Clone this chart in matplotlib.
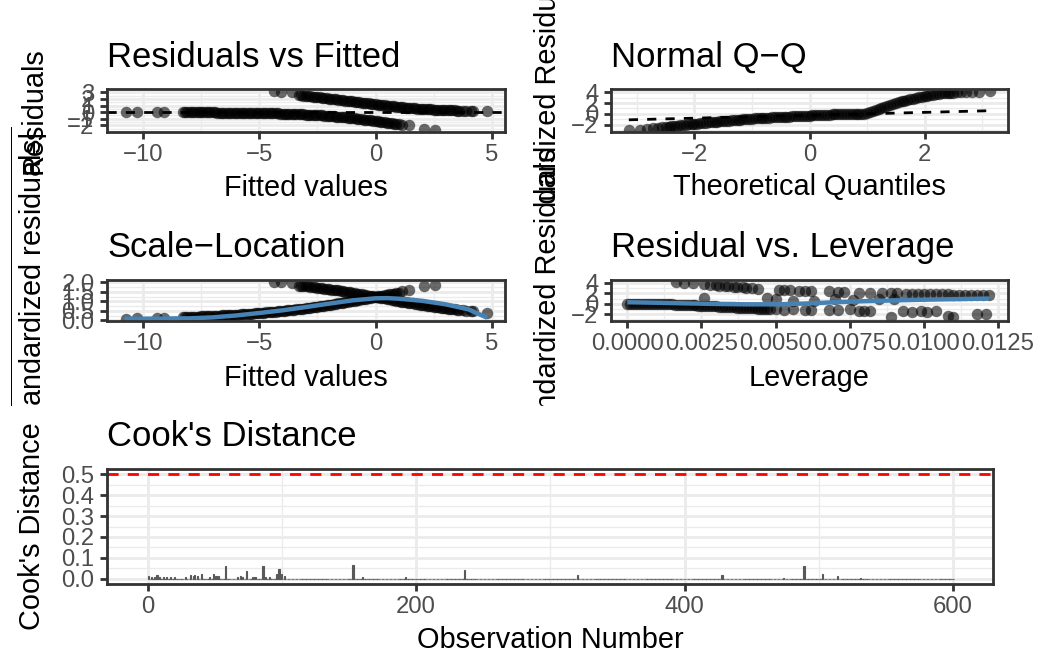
import numpy as np
import matplotlib
matplotlib.use("Agg")
import matplotlib.pyplot as plt
from matplotlib.transforms import Bbox

# ---------------- data ----------------
# Residuals vs Fitted / Scale-Location : observations with y = 1 (upper band)
fit_hi = [-4.35, -4.05, -3.6, -3.3, -3.2, -3.1, -3.0, -2.9, -2.8, -2.7, -2.6, -2.5, -2.4, -2.3, -2.2,
          -2.1, -2.0, -1.9, -1.8, -1.7, -1.6, -1.5, -1.4, -1.3, -1.2, -1.1, -1.0, -0.9, -0.8, -0.7,
          -0.6, -0.5, -0.4, -0.3, -0.2, -0.1, 0.0, 0.1, 0.2, 0.3, 0.4, 0.5, 0.6, 0.7, 0.8, 0.9, 1.0,
          1.1, 1.2, 1.3, 1.4, 1.5, 1.6, 1.7, 1.8, 1.9, 2.0, 2.1, 2.2, 2.3, 2.4, 2.5, 2.6, 2.7, 2.8,
          2.9, 3.0, 3.1, 3.2, 3.3, 3.4, 3.5, 3.6, 3.75, 3.9, 4.1, 4.2, 4.8]
res_hi = [3.15, 3.1, 3.05, 2.58, 2.55, 2.51, 2.47, 2.43, 2.39, 2.35, 2.31, 2.27, 2.23, 2.19, 2.15,
          2.11, 2.06, 2.02, 1.98, 1.93, 1.89, 1.85, 1.80, 1.76, 1.71, 1.67, 1.62, 1.58, 1.53, 1.49,
          1.44, 1.40, 1.35, 1.31, 1.26, 1.22, 1.18, 1.14, 1.09, 1.05, 1.01, 0.97, 0.94, 0.90, 0.86,
          0.83, 0.79, 0.76, 0.73, 0.69, 0.66, 0.64, 0.61, 0.58, 0.55, 0.53, 0.50, 0.48, 0.46, 0.44,
          0.42, 0.40, 0.38, 0.36, 0.34, 0.33, 0.31, 0.30, 0.28, 0.27, 0.26, 0.24, 0.23, 0.22, 0.20,
          0.18, 0.17, 0.13]
sl_hi = [2.02, 2.0, 1.98, 1.83, 1.82, 1.81, 1.79, 1.78, 1.76, 1.75, 1.73, 1.72, 1.70, 1.69, 1.67,
         1.65, 1.64, 1.62, 1.60, 1.59, 1.57, 1.55, 1.53, 1.51, 1.49, 1.47, 1.45, 1.43, 1.41, 1.39,
         1.37, 1.35, 1.33, 1.30, 1.28, 1.26, 1.24, 1.22, 1.19, 1.17, 1.15, 1.13, 1.10, 1.08, 1.06,
         1.04, 1.02, 0.99, 0.97, 0.95, 0.93, 0.91, 0.89, 0.87, 0.85, 0.83, 0.81, 0.79, 0.77, 0.75,
         0.74, 0.72, 0.70, 0.69, 0.67, 0.65, 0.64, 0.62, 0.61, 0.59, 0.58, 0.56, 0.55, 0.53, 0.51,
         0.49, 0.47, 0.41]

# observations with y = 0 (lower band)
fit_lo = [-10.75, -10.25, -9.4, -9.1,
          -8.3, -8.2, -8.1, -8.0, -7.9, -7.8, -7.7, -7.6, -7.5, -7.4, -7.3, -7.2, -7.1, -7.0, -6.9,
          -6.8, -6.7, -6.6, -6.5, -6.4, -6.3, -6.2, -6.1, -6.0, -5.9, -5.8, -5.7, -5.6, -5.5, -5.4,
          -5.3, -5.2, -5.1, -5.0, -4.9, -4.8, -4.7, -4.6, -4.5, -4.4, -4.3, -4.2, -4.1, -4.0, -3.9,
          -3.8, -3.7, -3.6, -3.5, -3.4, -3.3, -3.2, -3.1, -3.0, -2.9, -2.8, -2.7, -2.6, -2.5, -2.4,
          -2.3, -2.2, -2.1, -2.0, -1.9, -1.8, -1.7, -1.6, -1.5, -1.4, -1.3, -1.2, -1.1, -1.0, -0.9,
          -0.8, -0.7, -0.6, -0.5, -0.4, -0.3, -0.2, -0.1, 0.0, 0.1, 0.2, 0.3, 0.4, 0.5, 0.6, 0.7,
          0.8, 0.9, 1.0, 1.15, 1.45, 2.1, 2.55]
res_lo = [-0.01, -0.01, -0.02, -0.02,
          -0.026, -0.027, -0.028, -0.030, -0.031, -0.033, -0.035, -0.036, -0.038, -0.040, -0.042,
          -0.044, -0.047, -0.049, -0.052, -0.054, -0.057, -0.060, -0.063, -0.066, -0.070, -0.073,
          -0.077, -0.081, -0.085, -0.089, -0.094, -0.099, -0.104, -0.109, -0.115, -0.121, -0.127,
          -0.133, -0.140, -0.147, -0.155, -0.163, -0.171, -0.180, -0.189, -0.198, -0.209, -0.219,
          -0.230, -0.242, -0.254, -0.267, -0.281, -0.295, -0.309, -0.325, -0.341, -0.358, -0.376,
          -0.395, -0.415, -0.435, -0.457, -0.479, -0.503, -0.527, -0.553, -0.579, -0.607, -0.636,
          -0.666, -0.697, -0.730, -0.763, -0.798, -0.835, -0.872, -0.910, -0.950, -0.991, -1.033,
          -1.076, -1.120, -1.165, -1.211, -1.258, -1.306, -1.354, -1.403, -1.453, -1.503, -1.554,
          -1.605, -1.657, -1.708, -1.760, -1.812, -1.864, -1.95, -2.0, -2.6, -2.65]
sl_lo = [0.09, 0.11, 0.14, 0.15,
         0.171, 0.175, 0.178, 0.184, 0.187, 0.193, 0.199, 0.202, 0.207, 0.213, 0.218, 0.223, 0.230,
         0.235, 0.242, 0.247, 0.254, 0.260, 0.267, 0.273, 0.281, 0.287, 0.295, 0.303, 0.310, 0.317,
         0.326, 0.334, 0.343, 0.351, 0.360, 0.370, 0.379, 0.388, 0.398, 0.408, 0.419, 0.429, 0.440,
         0.451, 0.462, 0.473, 0.486, 0.497, 0.510, 0.523, 0.536, 0.549, 0.564, 0.577, 0.591, 0.606,
         0.621, 0.636, 0.652, 0.668, 0.685, 0.701, 0.719, 0.736, 0.754, 0.772, 0.791, 0.809, 0.828,
         0.848, 0.868, 0.888, 0.908, 0.929, 0.950, 0.971, 0.993, 1.014, 1.036, 1.058, 1.081, 1.103,
         1.125, 1.147, 1.170, 1.192, 1.215, 1.237, 1.259, 1.282, 1.303, 1.325, 1.347, 1.368, 1.389,
         1.410, 1.431, 1.451, 1.52, 1.58, 1.80, 1.84]

# Scale-Location smoother
sl_smooth_x = [-10.8, -10.0, -9.0, -8.0, -7.0, -6.0, -5.0, -4.0, -3.0, -2.0, -1.0, 0.0, 0.5, 1.0,
               2.0, 3.0, 4.0, 4.8]
sl_smooth_y = [0.09, 0.09, 0.10, 0.11, 0.16, 0.26, 0.39, 0.53, 0.70, 0.88, 1.05, 1.16, 1.17, 1.14,
               1.03, 0.85, 0.58, 0.14]

# Normal Q-Q
qq_theo = [-3.14, -2.95, -2.82, -2.72, -2.64, -2.57, -2.5, -2.45,
           -2.40, -2.35, -2.30, -2.25, -2.20, -2.15, -2.10, -2.05, -2.00, -1.95, -1.90, -1.85,
           -1.80, -1.75, -1.70, -1.65, -1.60, -1.55, -1.50, -1.45, -1.40, -1.35, -1.30, -1.25,
           -1.20, -1.15, -1.10, -1.05, -1.00, -0.95, -0.90, -0.85, -0.80, -0.75, -0.70, -0.65,
           -0.60, -0.55, -0.50, -0.45, -0.40, -0.35, -0.30, -0.25, -0.20, -0.15, -0.10, -0.05,
           0.00, 0.05, 0.10, 0.15, 0.20, 0.25, 0.30, 0.35, 0.40, 0.45, 0.50, 0.55, 0.60, 0.65,
           0.70, 0.75, 0.80, 0.85, 0.90, 0.95, 1.00, 1.05, 1.10, 1.15, 1.20, 1.25, 1.30, 1.35,
           1.40, 1.45, 1.50, 1.55, 1.60, 1.65, 1.70, 1.75, 1.80, 1.85, 1.90, 1.95, 2.00, 2.05,
           2.10, 2.15, 2.20, 2.25, 2.30, 2.35, 2.40, 2.45, 2.5, 2.57, 2.64, 2.72, 2.82, 2.95, 3.14]
qq_sample = [-2.94, -2.85, -2.75, -2.62, -2.52, -2.44, -2.37, -2.31,
             -2.25, -2.19, -2.13, -2.08, -2.02, -1.97, -1.91, -1.86, -1.80, -1.75, -1.70, -1.65,
             -1.60, -1.55, -1.50, -1.45, -1.40, -1.35, -1.30, -1.26, -1.21, -1.17, -1.12, -1.08,
             -1.04, -0.99, -0.95, -0.90, -0.86, -0.83, -0.80, -0.77, -0.74, -0.70, -0.67, -0.64,
             -0.61, -0.58, -0.55, -0.52, -0.50, -0.47, -0.45, -0.42, -0.39, -0.37, -0.34, -0.32,
             -0.29, -0.27, -0.24, -0.22, -0.19, -0.17, -0.14, -0.12, -0.09, -0.07, -0.05, -0.04,
             -0.03, -0.03, -0.02, -0.02, -0.01, -0.01, -0.01, 0.00, 0.17, 0.37, 0.55, 0.73, 0.90,
             1.07, 1.23, 1.42, 1.60, 1.78, 1.95, 2.12, 2.30, 2.43, 2.55, 2.68, 2.80, 2.93, 3.05,
             3.15, 3.25, 3.35, 3.45, 3.52, 3.60, 3.68, 3.75, 3.80, 3.85, 3.88, 3.92, 3.95, 3.98,
             4.00, 4.04, 4.10, 4.20]
qq_line_x = [-3.14, 3.14]
qq_line_intercept = -0.24
qq_line_slope = 0.265

# Residual vs Leverage
lev = [0.0000, 0.0001, 0.0002, 0.0003, 0.0004, 0.0005, 0.0006, 0.0007, 0.0008, 0.0009, 0.0010,
       0.0011, 0.0012, 0.0013, 0.0014, 0.0015, 0.0016, 0.0017, 0.0018, 0.0019, 0.0020, 0.0021,
       0.0022, 0.0023, 0.0024, 0.0025, 0.0026, 0.0027, 0.0028, 0.0029, 0.0030, 0.0031, 0.0032,
       0.0033, 0.0034, 0.0035, 0.0036, 0.0037, 0.0038, 0.0039, 0.0040, 0.0041, 0.0042, 0.0043,
       0.0044, 0.0045, 0.0046, 0.0047, 0.0048,
       0.00165, 0.0019, 0.0022, 0.0026, 0.0028, 0.0030, 0.0031, 0.0033, 0.0034, 0.0036, 0.0037,
       0.0039, 0.0040, 0.0042, 0.0044,
       0.0051, 0.0053, 0.0055, 0.0058, 0.0060, 0.0062, 0.0068, 0.0071, 0.0073,
       0.0078, 0.0082, 0.0086, 0.0089, 0.0091, 0.0094, 0.0096, 0.0098, 0.0100, 0.0102, 0.0104,
       0.0106, 0.0108, 0.0110, 0.0112, 0.0114, 0.0116, 0.0118, 0.0120, 0.0122,
       0.0026, 0.0047, 0.0050, 0.0056, 0.0063, 0.0070, 0.0076, 0.0085, 0.0090,
       0.0050, 0.0053, 0.0056, 0.0060, 0.0062, 0.0068, 0.0071, 0.0075, 0.0078, 0.0080, 0.0082,
       0.0089, 0.0093, 0.0096, 0.0099, 0.0101, 0.0104, 0.0108, 0.0110, 0.0118, 0.0121]
lev_res = [0.0, 0.0, -0.01, -0.01, -0.02, -0.02, -0.03, -0.03, -0.04, -0.05, -0.06,
           -0.07, -0.08, -0.10, -0.11, -0.13, -0.15, -0.17, -0.19, -0.21, -0.23, -0.26,
           -0.28, -0.31, -0.33, -0.36, -0.39, -0.42, -0.45, -0.48, -0.51, -0.54, -0.57,
           -0.60, -0.63, -0.66, -0.69, -0.72, -0.75, -0.78, -0.81, -0.84, -0.87, -0.90,
           -0.93, -0.96, -0.99, -1.02, -1.05,
           4.15, 4.0, 3.9, 3.7, 3.65, 3.55, 3.5, 3.4, 3.35, 3.3, 3.25,
           3.2, 3.1, 3.0, 2.75,
           2.65, 2.6, 2.55, 2.5, 2.45, 2.4, 2.4, 2.35, 2.3,
           2.1, 2.0, 2.05, 2.0, 2.05, 1.95, 1.9, 1.95, 1.9, 1.85, 1.85,
           1.8, 1.8, 1.75, 1.75, 1.7, 1.7, 1.65, 1.65, 1.6,
           1.1, 1.1, 0.85, 0.5, 0.6, 0.9, 0.7, 1.0, 0.9,
           -1.05, -1.1, -1.05, -1.1, -1.15, -1.1, -1.2, -1.05, -1.3, -1.3, -1.35,
           -2.45, -1.4, -1.5, -1.45, -1.5, -1.45, -2.3, -2.45, -2.0, -2.05]
lev_smooth_x = [0.0, 0.001, 0.002, 0.003, 0.004, 0.005, 0.006, 0.007, 0.008, 0.009, 0.010,
                0.011, 0.0122]
lev_smooth_y = [0.3, 0.2, 0.08, -0.03, -0.1, -0.1, 0.05, 0.3, 0.5, 0.65, 0.78, 0.88, 1.0]

# Cook's distance (non-zero bars; all other observations are 0)
n_obs = 600
cook_obs = [1, 3, 5, 7, 9, 12, 14, 17, 20, 28, 32, 34, 35, 37, 40, 46, 49, 51, 53, 58, 67, 69,
            71, 74, 78, 80, 86, 88, 91, 96, 98, 100, 102, 153, 160, 192, 236, 320, 428, 474,
            489, 503, 514, 531]
cook_val = [0.013, 0.008, 0.009, 0.017, 0.009, 0.008, 0.008, 0.008, 0.008, 0.009, 0.017, 0.013,
            0.017, 0.013, 0.022, 0.009, 0.025, 0.013, 0.013, 0.060, 0.009, 0.013, 0.009, 0.039,
            0.008, 0.009, 0.060, 0.009, 0.009, 0.025, 0.047, 0.022, 0.013, 0.068, 0.008, 0.008,
            0.044, 0.016, 0.016, 0.006, 0.060, 0.025, 0.013, 0.006]
cook_cutoff = 0.5

# ---------------- figure ----------------
W, H, DPI = 1038, 653, 100
S = 1.89  # ggplot pt -> matplotlib pt at this resolution
plt.rcParams['font.family'] = ['Liberation Sans', 'DejaVu Sans']
plt.rcParams['mathtext.fontset'] = 'custom'
plt.rcParams['mathtext.rm'] = 'Liberation Sans'
plt.rcParams['mathtext.it'] = 'Liberation Sans:italic'
plt.rcParams['axes.unicode_minus'] = True

fig = plt.figure(figsize=(W / DPI, H / DPI), dpi=DPI)
fig.patch.set_facecolor('white')

GRID = '#EBEBEB'
TICKC = '#333333'
LABC = '#4D4D4D'
PT_S = 68
ALPHA = 0.58


def add_ax(l, t, r, b):
    return fig.add_axes([l / W, 1 - b / H, (r - l) / W, (b - t) / H])


def style(ax, xlim, ylim, xmaj, xmin, ymaj, ymin, xlab=None, ylab=None):
    ax.set_xlim(xlim)
    ax.set_ylim(ylim)
    ax.set_xticks(xmaj)
    ax.set_xticks(xmin, minor=True)
    ax.set_yticks(ymaj)
    ax.set_yticks(ymin, minor=True)
    if xlab is not None:
        ax.set_xticklabels(xlab)
    if ylab is not None:
        ax.set_yticklabels(ylab)
    ax.grid(True, which='major', color=GRID, lw=1.07 * S)
    ax.grid(True, which='minor', color=GRID, lw=0.53 * S)
    ax.set_axisbelow(True)
    ax.tick_params(which='major', length=2.75 * S, width=1.07 * S, color=TICKC,
                   labelsize=17.2, labelcolor=LABC, pad=2.0 * S)
    ax.tick_params(which='minor', length=0, width=0)
    for sp in ax.spines.values():
        sp.set_color(TICKC)
        sp.set_linewidth(1.07 * S)
        sp.set_zorder(5)


def ftext(x, y, s, **kw):
    return fig.text(x / W, 1 - y / H, s, **kw)


def minus(v):
    return [str(t).replace('-', '\u2212') for t in v]


TITLE = 13.2 * S
AXT = 11 * S


def pts(ax, x, y):
    ax.scatter(x, y, s=PT_S, c='black', alpha=ALPHA, linewidths=0, zorder=2)


# ---- Panel 1: Residuals vs Fitted
ax1 = add_ax(107, 89, 505, 132)
style(ax1, (-11.55, 5.57), (-3.0, 3.5), [-10, -5, 0, 5], [-7.5, -2.5, 2.5],
      [-2, -1, 0, 1, 2, 3], [-2.5, -1.5, -0.5, 0.5, 1.5, 2.5, 3.5],
      xlab=minus([-10, -5, 0, 5]), ylab=minus([-2, -1, 0, 1, 2, 3]))
ax1.axhline(0, color='black', lw=2.0, ls=(0, (3.3, 3.3)), zorder=1)
pts(ax1, fit_lo, res_lo)
pts(ax1, fit_hi, res_hi)

# ---- Panel 2: Normal Q-Q
ax2 = add_ax(611, 89, 1008, 132)
style(ax2, (-3.45, 3.45), (-3.3, 4.56), [-2, 0, 2], [-3, -1, 1, 3],
      [-2, 0, 2, 4], [-3, -1, 1, 3], xlab=minus([-2, 0, 2]), ylab=minus([-2, 0, 2, 4]))
xx = np.array(qq_line_x)
ax2.plot(xx, qq_line_intercept + qq_line_slope * xx, color='black', lw=2.0,
         ls=(0, (3.3, 3.3)), zorder=1)
pts(ax2, qq_theo, qq_sample)

# ---- Panel 3: Scale-Location
ax3 = add_ax(107, 280, 505, 321)
style(ax3, (-11.55, 5.57), (-0.03, 2.12), [-10, -5, 0, 5], [-7.5, -2.5, 2.5],
      [0, 0.5, 1.0, 1.5, 2.0], [0.25, 0.75, 1.25, 1.75],
      xlab=minus([-10, -5, 0, 5]), ylab=['0.0', '0.5', '1.0', '1.5', '2.0'])
pts(ax3, fit_lo, sl_lo)
pts(ax3, fit_hi, sl_hi)
ax3.plot(sl_smooth_x, sl_smooth_y, color='steelblue', lw=3.2, zorder=3, solid_capstyle='butt')

# ---- Panel 4: Residual vs. Leverage
ax4 = add_ax(611, 280, 1008, 321)
style(ax4, (-0.00055, 0.01284), (-3.3, 4.56),
      [0, 0.0025, 0.005, 0.0075, 0.01, 0.0125],
      [0.00125, 0.00375, 0.00625, 0.00875, 0.01125],
      [-2, 0, 2, 4], [-3, -1, 1, 3],
      xlab=['0.0000', '0.0025', '0.0050', '0.0075', '0.0100', '0.0125'],
      ylab=minus([-2, 0, 2, 4]))
pts(ax4, lev, lev_res)
ax4.plot(lev_smooth_x, lev_smooth_y, color='steelblue', lw=3.2, zorder=3, solid_capstyle='butt')

# ---- Panel 5: Cook's distance
ax5 = add_ax(107, 469, 993, 584)
style(ax5, (-30.2, 629.8), (-0.025, 0.525), [0, 200, 400, 600], [100, 300, 500],
      [0, 0.1, 0.2, 0.3, 0.4, 0.5], [0.05, 0.15, 0.25, 0.35, 0.45],
      xlab=['0', '200', '400', '600'], ylab=['0.0', '0.1', '0.2', '0.3', '0.4', '0.5'])
obs = np.arange(1, n_obs + 1)
cooks = np.zeros(n_obs)
cooks[np.array(cook_obs) - 1] = cook_val
ax5.bar(obs, cooks, width=0.9, color='#595959', edgecolor='#595959', linewidth=0.8, zorder=2)
ax5.axhline(cook_cutoff, color='red', lw=2.0, ls=(0, (4, 3.3)), zorder=3)

# ---- titles
ftext(107, 67, 'Residuals vs Fitted', fontsize=TITLE, ha='left', va='baseline')
ftext(611, 67, 'Normal Q\u2212Q', fontsize=TITLE, ha='left', va='baseline')
ftext(107, 257, 'Scale\u2212Location', fontsize=TITLE, ha='left', va='baseline')
ftext(611, 257, 'Residual vs. Leverage', fontsize=TITLE, ha='left', va='baseline')
ftext(107, 446, "Cook's Distance", fontsize=TITLE, ha='left', va='baseline')

# ---- x axis titles
ftext(306, 195.5, 'Fitted values', fontsize=AXT, ha='center', va='baseline')
ftext(809.5, 195.5, 'Theoretical Quantiles', fontsize=AXT, ha='center', va='baseline')
ftext(306, 385.5, 'Fitted values', fontsize=AXT, ha='center', va='baseline')
ftext(809.5, 385.5, 'Leverage', fontsize=AXT, ha='center', va='baseline')
ftext(550, 648, 'Observation Number', fontsize=AXT, ha='center', va='baseline')


# ---- y axis titles (they overflow their cells in the reference)
def ylab(x, y, s, clip_bottom=None):
    t = ftext(x, y, s, fontsize=AXT, rotation=90, rotation_mode='anchor',
              ha='center', va='baseline')
    if clip_bottom is not None:
        t.set_clip_box(Bbox([[0, H - clip_bottom], [W, H]]))
        t.set_clip_on(True)
    return t


ylab(41.7, 110.5, 'Residuals')
ylab(556.5, 110.5, 'Standardized Residuals', clip_bottom=206)
ylab(41.7, 300.5, r'$\sqrt{|\mathrm{Standardized\ residuals}|}$', clip_bottom=406)
ylab(556.5, 300.5, 'Standardized Residuals', clip_bottom=406)
ylab(40.5, 526.5, "Cook's Distance")

fig.savefig('out.png', dpi=DPI)
